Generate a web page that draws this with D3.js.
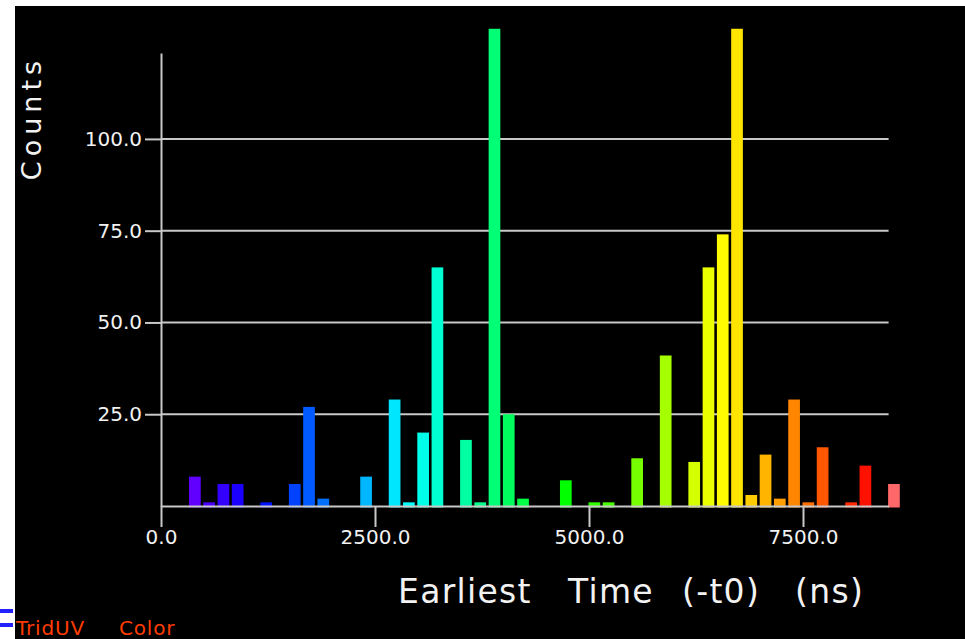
<!DOCTYPE html>
<html>
<head>
<meta charset="utf-8">
<script src="https://cdn.jsdelivr.net/npm/d3@7/dist/d3.min.js"></script>
<style>
  html, body { margin: 0; padding: 0; background: #ffffff; }
  svg { display: block; }
  text { font-family: "DejaVu Sans", sans-serif; }
</style>
</head>
<body>
<svg id="chart" width="965" height="639"></svg>
<script>
// Histogram of earliest hit time (relative to t0), bins of 500/3 ns.
// counts[k] is the number of entries in bin k, starting at 0 ns.
const binWidthNs = 500 / 3;
const counts = [
  0, 0, 8, 1, 6, 6, 0, 1, 0, 6,
  27, 2, 0, 0, 8, 0, 29, 1, 20, 65,
  0, 18, 1, 130, 25, 2, 0, 0, 7, 0,
  1, 1, 0, 13, 0, 41, 0, 12, 65, 74,
  130, 3, 14, 2, 29, 1, 16, 0, 1, 11,
  0, 6
];
const xTicks = [0, 2500, 5000, 7500];
const yTicks = [25, 50, 75, 100];
const xMax = 8500;      // end of the time axis; later bins are overflow
const yMax = 123.4;     // top of the count axis
const xTitleWords = ["Earliest", "Time", "(-t0)", "(ns)"];
const yTitle = "Counts";
const footerWords = ["TridUV", "Color"];

const bins = counts.map((c, k) => ({ start: k * binWidthNs, count: c }))
  .filter(d => d.count > 0);

const svg = d3.select("#chart");
const lineColor = "#c8c8c8";
const textColor = "#f2f2f2";

// black panel over the white page
svg.append("rect").attr("x", 15).attr("y", 6).attr("width", 950).attr("height", 633)
  .attr("fill", "#000000");

const x = d3.scaleLinear().domain([0, xMax]).range([161, 888.6]);
const y = d3.scaleLinear().domain([0, yMax]).range([506, 53]);

// colour follows time along the spectrum; overflow bin is drawn pink
const hue = d3.scaleLinear().domain([2 * binWidthNs, 49 * binWidthNs]).range([263, 4]);
const colorOf = d => d.start >= xMax ? "#ff6868" : d3.hsl(hue(d.start), 1, 0.5).formatHex();

// gridlines
svg.append("g").selectAll("line").data(yTicks).join("line")
  .attr("x1", x(0)).attr("x2", x(xMax))
  .attr("y1", d => y(d)).attr("y2", d => y(d))
  .attr("stroke", lineColor).attr("stroke-width", 2);

// bars
const barW = x(binWidthNs * 0.82) - x(0);
svg.append("g").selectAll("rect").data(bins).join("rect")
  .attr("x", d => x(d.start) - 0.5)
  .attr("width", barW)
  .attr("y", d => y(d.count))
  .attr("height", d => y(0) + 1.5 - y(d.count))
  .attr("fill", colorOf);

// y axis
const yAxis = d3.axisLeft(y).tickValues(yTicks).tickSize(16).tickSizeOuter(0)
  .tickPadding(3).tickFormat(d3.format(".1f"));
const gy = svg.append("g").attr("transform", `translate(${x(0)},0)`).call(yAxis);
gy.selectAll("path, line").attr("stroke", lineColor).attr("stroke-width", 2);
gy.selectAll("text").attr("fill", textColor).attr("font-size", 20)
  .attr("font-family", "DejaVu Sans, sans-serif");

// x axis
const xAxis = d3.axisBottom(x).tickValues(xTicks).tickSize(21).tickSizeOuter(0)
  .tickPadding(3).tickFormat(d3.format(".1f"));
const gx = svg.append("g").attr("transform", `translate(0,${y(0)})`).call(xAxis);
gx.selectAll("path, line").attr("stroke", lineColor).attr("stroke-width", 2);
gx.selectAll("text").attr("fill", textColor).attr("font-size", 20)
  .attr("font-family", "DejaVu Sans, sans-serif");

// axis titles
const xTitleX = [398, 568, 682, 795];
svg.append("text").attr("y", 603).attr("fill", textColor).attr("font-size", 33)
  .attr("letter-spacing", 1.3)
  .selectAll("tspan").data(xTitleWords).join("tspan")
  .attr("x", (d, i) => xTitleX[i]).text(d => d);

svg.append("text").attr("transform", "translate(41,118) rotate(-90)")
  .attr("text-anchor", "middle").attr("fill", textColor).attr("font-size", 27)
  .attr("letter-spacing", 5).text(yTitle);

// footer label and markers on the page edge
svg.append("g").selectAll("rect").data([609, 623]).join("rect")
  .attr("x", 0).attr("y", d => d).attr("width", 13).attr("height", 4)
  .attr("fill", "#2222ff");
const footX = [16, 119];
svg.append("text").attr("y", 635).attr("fill", "#ff3c00").attr("font-size", 20)
  .attr("letter-spacing", 0.8)
  .selectAll("tspan").data(footerWords).join("tspan")
  .attr("x", (d, i) => footX[i]).text(d => d);
</script>
</body>
</html>
